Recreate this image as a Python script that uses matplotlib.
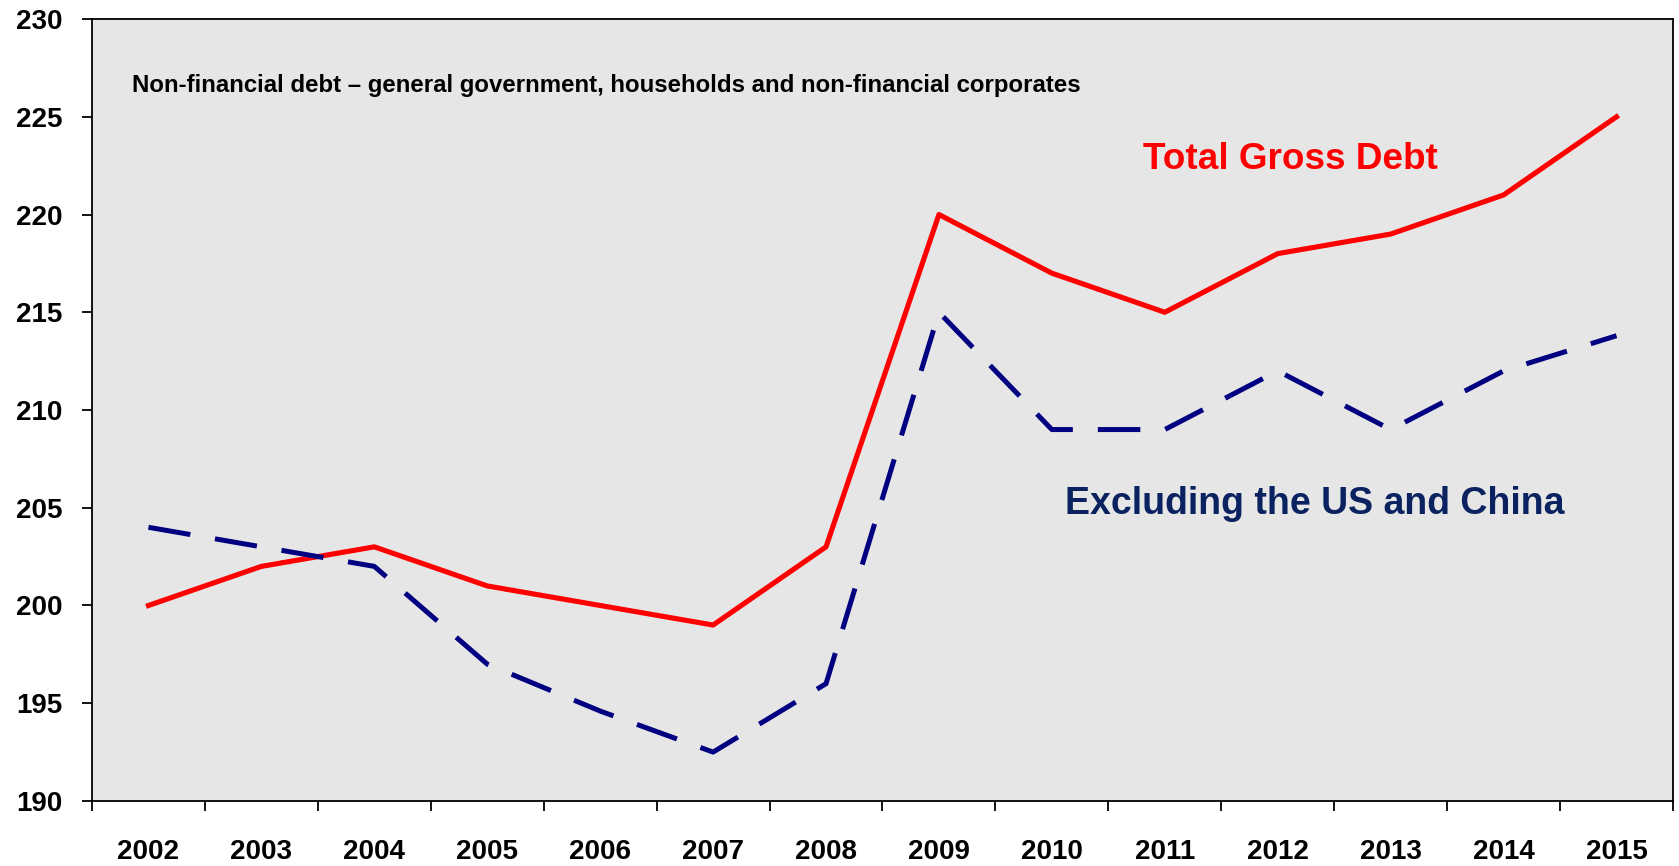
import matplotlib.pyplot as plt
import numpy as np

years = ['2002', '2003', '2004', '2005', '2006', '2007', '2008',
         '2009', '2010', '2011', '2012', '2013', '2014', '2015']
total_debt = [200, 202, 203, 201, 200, 199, 203, 220, 217, 215, 218, 219, 221, 225]
excl_us_china = [204, 203, 202, 197, 194.6, 192.5, 196, 215, 209, 209, 212, 209, 212, 213.8]

plt.rcParams['font.family'] = ['Liberation Sans', 'DejaVu Sans']
plt.rcParams['font.weight'] = 'bold'

fig = plt.figure(figsize=(16.79, 8.66), dpi=100)
ax = fig.add_axes([0.0548, 0.0751, 0.9416, 0.9029])
ax.set_facecolor('#e6e6e6')

x = np.arange(len(years)) + 0.5
ax.plot(x, total_debt, color='#ff0000', lw=3.7, solid_joinstyle='round')
ax.plot(x, excl_us_china, color='#000080', lw=3.6, dashes=(8.5, 5), dash_capstyle='butt')

ax.set_xlim(0, len(years))
ax.set_ylim(190, 230)

# ticks on category boundaries, labels in the middle
ax.set_xticks(np.arange(len(years) + 1))
ax.set_xticklabels([])
ax.set_xticks(x, minor=True)
ax.set_xticklabels(years, minor=True)
ax.tick_params(axis='x', which='major', direction='out', length=7.5, width=1.3)
ax.tick_params(axis='x', which='minor', length=0, pad=27.5, labelsize=20)
ax.set_yticks(np.arange(190, 231, 5))
ax.tick_params(axis='y', direction='out', length=7.5, width=1.3, pad=14, labelsize=20)

for s in ax.spines.values():
    s.set_linewidth(1.3)
    s.set_color('black')

ax.text(0.35, 226.6, 'Non-financial debt \u2013 general government, households and non-financial corporates',
        fontsize=17.3, fontweight='bold', color='black', va='center', ha='left')
ax.text(9.31, 222.8, 'Total Gross Debt', fontsize=26.6, fontweight='bold',
        color='#ff0000', va='center', ha='left')
ax.text(8.62, 205.2, 'Excluding the US and China', fontsize=27, fontweight='bold',
        color='#0a2260', va='center', ha='left')

fig.savefig('out.png', dpi=100)
